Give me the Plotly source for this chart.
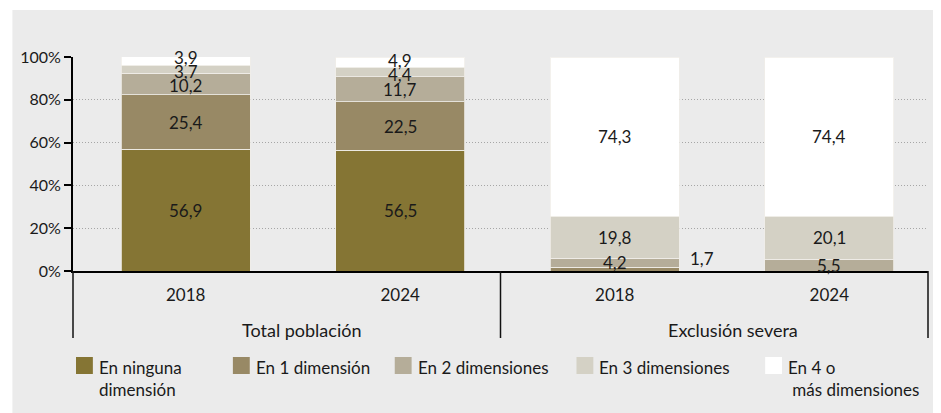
import plotly.graph_objects as go

# ---- data ----
years = ["2018", "2024", "2018", "2024"]
groups = ["Total población", "Exclusión severa"]
series_names = ["En ninguna<br>dimensión", "En 1 dimensión", "En 2 dimensiones",
                "En 3 dimensiones", "En 4 o<br>\u00a0más dimensiones"]
ninguna = [56.9, 56.5, 0.0, 0.0]
una_dim = [25.4, 22.5, 1.7, 0.0]
dos_dim = [10.2, 11.7, 4.2, 5.5]
tres_dim = [3.7, 4.4, 19.8, 20.1]
cuatro_dim = [3.9, 4.9, 74.3, 74.4]
y_ticks = [0, 20, 40, 60, 80, 100]
y_tick_labels = ["0%", "20%", "40%", "60%", "80%", "100%"]

series = [ninguna, una_dim, dos_dim, tres_dim, cuatro_dim]
colors = ["#857534", "#988965", "#b5ad99", "#d4d1c5", "#ffffff"]

FONT = "Lato"
TXT = "#1a1a1a"
BAR_W = 0.6
MIN_SEP = 6.5  # minimum vertical spacing between labels in a bar (data units)
xpos = list(range(len(years)))

# page offset (body margin) and target page coordinates of the plot area
OFF = 8
W, H = 941 - OFF, 413 - OFF
L, R, T, B = 67, 928, 57, 271
def px(x):
    return (x - L) / (R - L)
def py(y):
    return (B - y) / (B - T)

fig = go.Figure()
for name, vals, col in zip(series_names, series, colors):
    fig.add_trace(go.Bar(
        x=xpos, y=vals, name=name, width=BAR_W,
        marker=dict(color=col, line=dict(color="rgba(240,238,232,0.8)", width=1)),
        showlegend=False, hoverinfo="skip"))

annotations = []
# value labels: centred in segments, spread apart when segments are thin
for j in xpos:
    cum = 0.0
    inside = []
    for vals in series:
        v = vals[j]
        if v > 0:
            label = f"{v:.1f}".replace(".", ",")
            if v >= 2:
                inside.append([cum + v / 2, label])
            else:
                annotations.append(dict(x=j + BAR_W / 2, y=cum, xref="x", yref="y",
                                        text=label, showarrow=False, xanchor="left",
                                        yanchor="bottom", xshift=9,
                                        font=dict(family=FONT, size=17, color=TXT)))
        cum += v
    for _ in range(20):
        for k in range(len(inside) - 1):
            gap = inside[k + 1][0] - inside[k][0]
            if gap < MIN_SEP:
                d = (MIN_SEP - gap) / 2
                inside[k][0] -= d
                inside[k + 1][0] += d
    for yv, label in inside:
        annotations.append(dict(x=j, y=yv, xref="x", yref="y", text=label,
                                showarrow=False,
                                font=dict(family=FONT, size=17, color=TXT)))

# group labels
for gx, g in zip([0.54, 2.55], groups):
    annotations.append(dict(x=gx, y=py(330), xref="x", yref="paper", text=g,
                            showarrow=False, yanchor="middle",
                            font=dict(family=FONT, size=18, color=TXT)))

shapes = [
    # grey panel background
    dict(type="rect", xref="paper", yref="paper", x0=px(6), x1=px(945),
         y0=py(420), y1=py(10), fillcolor="#ebebeb", line=dict(width=0), layer="below"),
]
# group dividers below axis
for xp in [0, 0.5, 1]:
    shapes.append(dict(type="line", xref="paper", yref="paper", x0=xp, x1=xp,
                       y0=0, y1=py(338), line=dict(color="#111111", width=1.5)))

# manual legend
sq_x = [70, 228, 391, 574, 764]
for xs, name, col in zip(sq_x, series_names, colors):
    shapes.append(dict(type="rect", xref="paper", yref="paper",
                       x0=px(xs), x1=px(xs + 17), y0=py(374), y1=py(357),
                       fillcolor=col, line=dict(width=0)))
    annotations.append(dict(x=px(xs + 21), y=py(355), xref="paper", yref="paper",
                            text=name, showarrow=False, xanchor="left", yanchor="top",
                            align="left",
                            font=dict(family=FONT, size=17, color=TXT)))

fig.update_layout(
    barmode="stack",
    width=W, height=H, autosize=False,
    margin=dict(l=L - OFF, r=W - (R - OFF), t=T - OFF, b=H - (B - OFF), pad=0),
    paper_bgcolor="white", plot_bgcolor="rgba(0,0,0,0)",
    font=dict(family=FONT, size=16, color=TXT),
    shapes=shapes, annotations=annotations,
    showlegend=False,
)
fig.update_xaxes(
    range=[-0.525, 3.46], tickvals=xpos, ticktext=years,
    showline=True, linecolor="black", linewidth=2,
    ticks="outside", ticklen=8, tickcolor="rgba(0,0,0,0)",
    tickfont=dict(family=FONT, size=17, color=TXT),
    showgrid=False, zeroline=False, fixedrange=True)
fig.update_yaxes(
    range=[0, 100], tickvals=y_ticks, ticktext=y_tick_labels,
    showline=True, linecolor="black", linewidth=2,
    ticks="outside", ticklen=7, tickwidth=1.5, tickcolor="black",
    tickfont=dict(family=FONT, size=16, color=TXT),
    showgrid=True, gridcolor="#a6a6a6", griddash="1px,2px", gridwidth=1,
    zeroline=False, fixedrange=True)

fig.write_html("out.html")
